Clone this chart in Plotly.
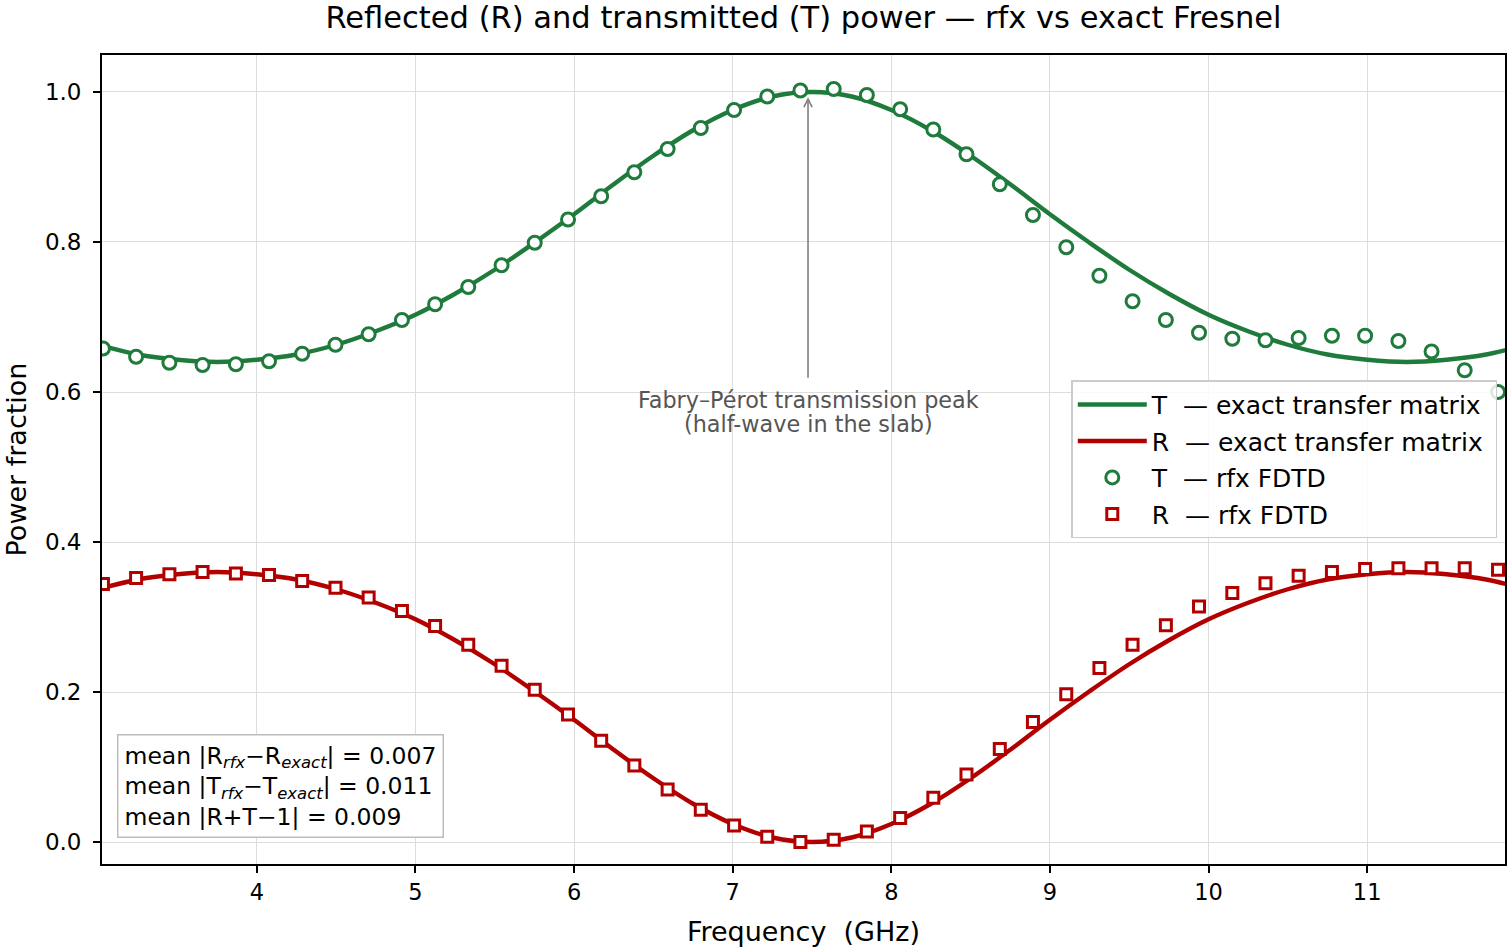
import plotly.graph_objects as go

# ---------------- data ----------------
freq_exact = [3.0, 3.25, 3.5, 3.75, 4.0, 4.25, 4.5, 4.75, 5.0, 5.25, 5.5, 5.75,
              6.0, 6.25, 6.5, 6.75, 7.0, 7.25, 7.5, 7.75, 8.0, 8.25, 8.5, 8.75,
              9.0, 9.25, 9.5, 9.75, 10.0, 10.25, 10.5, 10.75, 11.0, 11.25, 11.5,
              11.75, 12.0]
T_exact = [0.663, 0.650, 0.643, 0.640, 0.643, 0.650, 0.663, 0.681, 0.703, 0.731,
           0.763, 0.799, 0.837, 0.877, 0.915, 0.949, 0.976, 0.994, 1.000, 0.994,
           0.976, 0.949, 0.915, 0.877, 0.837, 0.799, 0.763, 0.731, 0.703, 0.681,
           0.663, 0.650, 0.643, 0.640, 0.643, 0.650, 0.663]
R_exact = [0.337, 0.350, 0.357, 0.360, 0.357, 0.350, 0.337, 0.319, 0.297, 0.269,
           0.237, 0.201, 0.163, 0.123, 0.085, 0.051, 0.024, 0.006, 0.000, 0.006,
           0.024, 0.051, 0.085, 0.123, 0.163, 0.201, 0.237, 0.269, 0.297, 0.319,
           0.337, 0.350, 0.357, 0.360, 0.357, 0.350, 0.337]

freq_rfx = [3.030, 3.239, 3.449, 3.658, 3.868, 4.077, 4.286, 4.496, 4.705, 4.915,
            5.124, 5.333, 5.543, 5.752, 5.962, 6.171, 6.380, 6.590, 6.799, 7.009,
            7.218, 7.427, 7.637, 7.846, 8.056, 8.265, 8.474, 8.684, 8.893, 9.103,
            9.312, 9.521, 9.731, 9.940, 10.150, 10.359, 10.568, 10.778, 10.987,
            11.197, 11.406, 11.615, 11.825]
T_rfx = [0.658, 0.647, 0.639, 0.636, 0.637, 0.641, 0.651, 0.663, 0.677, 0.696,
         0.717, 0.740, 0.769, 0.799, 0.830, 0.861, 0.893, 0.924, 0.952, 0.976,
         0.994, 1.002, 1.004, 0.996, 0.977, 0.950, 0.917, 0.877, 0.836, 0.793,
         0.755, 0.721, 0.696, 0.679, 0.671, 0.669, 0.672, 0.675, 0.675, 0.668,
         0.654, 0.629, 0.600]
R_rfx = [0.344, 0.352, 0.357, 0.360, 0.358, 0.356, 0.348, 0.339, 0.326, 0.308,
         0.288, 0.263, 0.235, 0.203, 0.170, 0.135, 0.102, 0.070, 0.043, 0.022,
         0.007, 0.000, 0.003, 0.014, 0.032, 0.059, 0.090, 0.124, 0.160, 0.197,
         0.232, 0.263, 0.289, 0.314, 0.332, 0.345, 0.355, 0.360, 0.364, 0.365,
         0.365, 0.365, 0.363]

peak_freq = 7.475
peak_T = 0.993
stats = {"R": 0.007, "T": 0.011, "RT": 0.009}

y_ticks = [0.0, 0.2, 0.4, 0.6, 0.8, 1.0]
x_ticks = [4, 5, 6, 7, 8, 9, 10, 11]

# ---------------- style ----------------
GREEN = "#1e7b3b"
RED = "#b20000"
FONT = "DejaVu Sans"
NB = "\u00a0"

fig = go.Figure()
fig.add_trace(go.Scatter(x=freq_exact, y=T_exact, mode="lines",
                         line=dict(color=GREEN, width=4.4, shape="spline"),
                         name=f"T{NB}{NB}— exact transfer matrix{NB}", legendgroup="a"))
fig.add_trace(go.Scatter(x=freq_exact, y=R_exact, mode="lines",
                         line=dict(color=RED, width=4.4, shape="spline"),
                         name=f"R{NB}{NB}— exact transfer matrix{NB}", legendgroup="b"))
fig.add_trace(go.Scatter(x=freq_rfx, y=T_rfx, mode="markers",
                         marker=dict(symbol="circle", size=13, color="white",
                                     line=dict(color=GREEN, width=3)),
                         name=f"T{NB}{NB}— rfx FDTD", legendgroup="c"))
fig.add_trace(go.Scatter(x=freq_rfx, y=R_rfx, mode="markers",
                         marker=dict(symbol="square", size=11, color="white",
                                     line=dict(color=RED, width=3)),
                         name=f"R{NB}{NB}— rfx FDTD", legendgroup="d"))

# arrow annotation
fig.add_annotation(x=peak_freq, y=peak_T, ax=peak_freq, ay=0.617,
                   xref="x", yref="y", axref="x", ayref="y", text="",
                   showarrow=True, arrowhead=5, arrowsize=1, arrowwidth=1.6,
                   arrowcolor="#808080", standoff=0)
fig.add_annotation(x=peak_freq, y=0.589, xref="x", yref="y",
                   text="Fabry–Pérot transmission peak", showarrow=False,
                   font=dict(family=FONT, size=22.3, color="#555555"))
fig.add_annotation(x=peak_freq, y=0.558, xref="x", yref="y",
                   text="(half-wave in the slab)", showarrow=False,
                   font=dict(family=FONT, size=22.3, color="#555555"))

# stats box
stats_text = (f"mean |R<sub><i>rfx</i></sub>−R<sub><i>exact</i></sub>| = {stats['R']:.3f}<br>"
              f"mean |T<sub><i>rfx</i></sub>−T<sub><i>exact</i></sub>| = {stats['T']:.3f}<br>"
              f"mean |R+T−1| = {stats['RT']:.3f}")
fig.add_annotation(x=0.0107, y=0.032, xref="paper", yref="paper",
                   xanchor="left", yanchor="bottom", align="left",
                   text=stats_text, showarrow=False,
                   font=dict(family=FONT, size=23.5, color="black"),
                   bgcolor="white", bordercolor="#bdbdbd", borderwidth=1.5,
                   borderpad=6)

fig.update_layout(
    width=1511, height=951,
    margin=dict(l=102, r=4, t=55, b=87),
    paper_bgcolor="white", plot_bgcolor="white",
    font=dict(family=FONT, color="black"),
    title=dict(text="Reflected (R) and transmitted (T) power — rfx vs exact Fresnel",
               x=0.5, xref="paper", y=1 - 17 / 951, yref="container",
               yanchor="middle", xanchor="center",
               font=dict(family=FONT, size=30.5, color="black")),
    legend=dict(x=0.9945, y=0.598, xanchor="right", yanchor="top",
                bgcolor="rgba(255,255,255,0.85)", bordercolor="#cccccc",
                borderwidth=1.5, font=dict(family=FONT, size=25),
                itemwidth=69, tracegroupgap=1),
    showlegend=True,
)
fig.update_xaxes(range=[3.024, 11.869], tickvals=x_ticks,
                 ticks="outside", ticklen=7, tickwidth=1.5, tickcolor="black",
                 tickfont=dict(family=FONT, size=22.5),
                 showgrid=True, gridcolor="#dddddd", gridwidth=1,
                 showline=True, linecolor="black", linewidth=1.8, mirror=True,
                 zeroline=False,
                 title=dict(text=f"Frequency{NB}{NB}(GHz)", standoff=18,
                            font=dict(family=FONT, size=27)))
fig.update_yaxes(range=[-0.0293, 1.0493], tickvals=y_ticks, tickformat=".1f",
                 ticks="outside", ticklen=7, tickwidth=1.5, tickcolor="black",
                 tickfont=dict(family=FONT, size=23), ticklabelstandoff=7,
                 showgrid=True, gridcolor="#dddddd", gridwidth=1,
                 showline=True, linecolor="black", linewidth=1.8, mirror=True,
                 zeroline=False,
                 title=dict(text="Power fraction", standoff=10,
                            font=dict(family=FONT, size=27)))

fig.write_html("out.html")
